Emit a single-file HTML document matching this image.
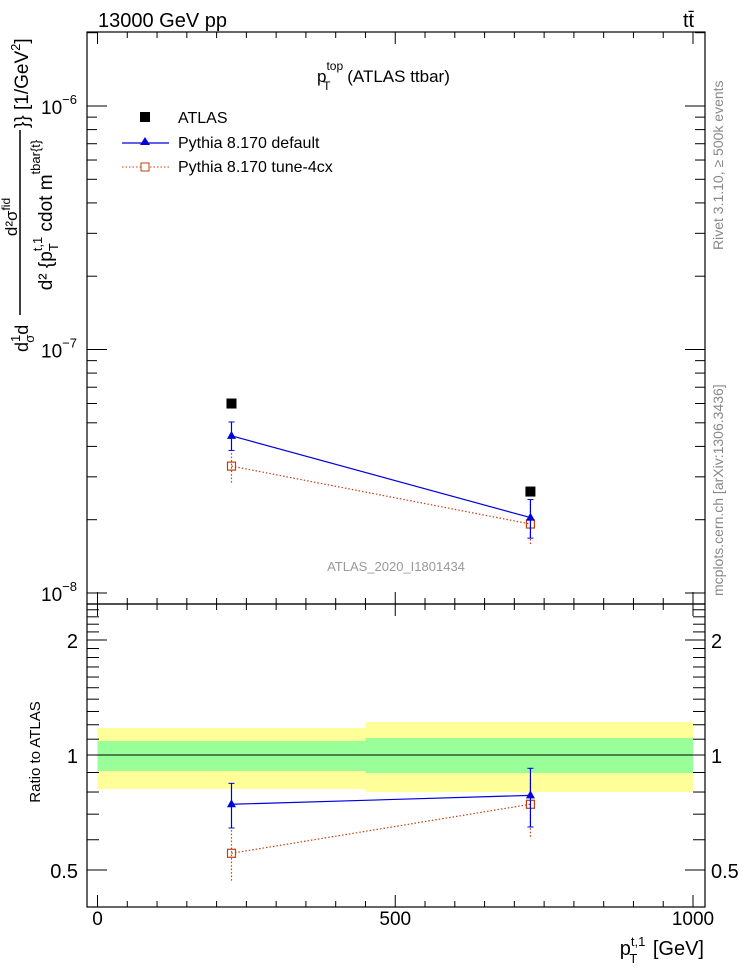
<!DOCTYPE html>
<html><head><meta charset="utf-8"><style>
html,body{margin:0;padding:0;background:#fff;}
svg{display:block;font-family:"Liberation Sans",sans-serif;}
</style></head><body>
<svg id="chart" width="746" height="972" viewBox="0 0 746 972" xmlns="http://www.w3.org/2000/svg">
<g id="bands"></g>
<g id="axes"></g>
<g id="series"></g>
<text x="98" y="27" font-size="20">13000 GeV pp</text>
<text x="683" y="27" font-size="20">tt̄</text>
<text x="317" y="82" font-size="17">p<tspan font-size="12" dy="-12">top</tspan><tspan font-size="12" dx="-20" dy="20">T</tspan><tspan dy="-8" dx="12"> (ATLAS ttbar)</tspan></text>
<g>
 <rect x="140" y="112" width="10" height="10" fill="#000"/>
 <text x="178" y="123" font-size="16">ATLAS</text>
 <line x1="122" y1="143" x2="169" y2="143" stroke="#0000dd" stroke-width="1.2"/>
 <polygon points="145,137 150,145 140,145" fill="#0000dd"/>
 <text x="178" y="148" font-size="16">Pythia 8.170 default</text>
 <line x1="122" y1="167" x2="169" y2="167" stroke="#c04010" stroke-width="1" stroke-dasharray="1.5,2"/>
 <rect x="141" y="163" width="8" height="8" fill="#fff" stroke="#c04010" stroke-width="1"/>
 <text x="178" y="172" font-size="16">Pythia 8.170 tune-4cx</text>
</g>
<text x="396" y="571" font-size="13" fill="#999" text-anchor="middle">ATLAS_2020_I1801434</text>
<text transform="translate(723,250) rotate(-90)" font-size="14" fill="#888">Rivet 3.1.10, ≥ 500k events</text>
<text transform="translate(723,596) rotate(-90)" font-size="14" fill="#888">mcplots.cern.ch [arXiv:1306.3436]</text>
<g>
 <text transform="translate(28,352) rotate(-90)" font-size="18">d<tspan font-size="13" dy="-8">1</tspan><tspan font-size="13" dx="-8" dy="14">σ</tspan><tspan dy="-6">d</tspan></text>
 <text transform="translate(17,217) rotate(-90)" font-size="17" text-anchor="middle">d²σ<tspan font-size="12" dy="-7">fid</tspan></text>
 <line x1="20" y1="130" x2="20" y2="315" stroke="#000" stroke-width="1.5"/>
 <text transform="translate(52,215) rotate(-90)" font-size="19" text-anchor="middle">d² {p<tspan font-size="13" dy="6">T</tspan><tspan font-size="13" dy="-16" dx="-8">t,1</tspan><tspan dy="10"> cdot m</tspan><tspan font-size="13" dy="-12">tbar{t}</tspan></text>
 <text transform="translate(28,128) rotate(-90)" font-size="19">}} [1/GeV<tspan font-size="13" dy="-8">2</tspan><tspan dy="8">]</tspan></text>
</g>
<text transform="translate(40,752) rotate(-90)" font-size="15" text-anchor="middle">Ratio to ATLAS</text>
<text x="704" y="955" font-size="20" text-anchor="end">p<tspan font-size="13" dy="-9">t,1</tspan><tspan font-size="13" dx="-16" dy="17">T</tspan><tspan dy="-8" dx="10"> [GeV]</tspan></text>
</svg>
<script>
const categories=[225,727];
const atlasValues=[6.0e-8,2.61e-8];
const defaultValues=[4.42e-8,2.04e-8];
const defaultErrLo=[3.85e-8,1.68e-8];
const defaultErrHi=[5.04e-8,2.42e-8];
const tuneValues=[3.32e-8,1.92e-8];
const tuneErrLo=[2.84e-8,1.59e-8];
const tuneErrHi=[3.84e-8,2.39e-8];
const binEdges=[0,450,1000];
const bandYellowLo=[0.815,0.80];
const bandYellowHi=[1.177,1.22];
const bandGreenLo=[0.908,0.897];
const bandGreenHi=[1.088,1.108];
const ratioDefault=[0.743,0.784];
const ratioDefaultLo=[0.644,0.648];
const ratioDefaultHi=[0.843,0.923];
const ratioTune=[0.553,0.743];
const ratioTuneLo=[0.469,0.611];
const ratioTuneHi=[0.64,0.877];
const xTickLabels=[0,500,1000];
const ratioTickLabels=[0.5,1,2];
const mainDecades=[-8,-7,-6];

const NS="http://www.w3.org/2000/svg";
const L=87,R=705,T=32,MB=604,RB=907;
const xs=v=>97.5+v*(693-97.5)/1000;
const ym=v=>106+(-6-Math.log10(v))*243.5;
const yr=v=>755-Math.log10(v)*382;
function mk(tag,attrs,parent){const e=document.createElementNS(NS,tag);for(const k in attrs)e.setAttribute(k,attrs[k]);parent.appendChild(e);return e;}
const axes=document.getElementById('axes'),series=document.getElementById('series'),bands=document.getElementById('bands');

for(let i=0;i<2;i++){
 const x1=xs(binEdges[i]),x2=xs(binEdges[i+1]);
 const y=mk('rect',{x:x1,y:yr(bandYellowHi[i]),width:x2-x1,height:yr(bandYellowLo[i])-yr(bandYellowHi[i]),fill:'#ffff99'},bands);
 
 
 const g=mk('rect',{x:x1,y:yr(bandGreenHi[i]),width:x2-x1,height:yr(bandGreenLo[i])-yr(bandGreenHi[i]),fill:'#99ff99'},bands);
 
 
}
mk('line',{x1:xs(0),x2:xs(1000),y1:yr(1),y2:yr(1),stroke:'#000','stroke-width':1},bands);

const f1=mk('rect',{x:L,y:T,width:R-L,height:MB-T,fill:'none',stroke:'#000','stroke-width':1.2},axes);


const f2=mk('rect',{x:L,y:MB,width:R-L,height:RB-MB,fill:'none',stroke:'#000','stroke-width':1.2},axes);



for(let v=0;v<=1000;v+=50){
 const x=xs(v),len=(v%500===0)?12:6;
 for(const [yb,d] of [[T,1],[MB,-1],[MB,1],[RB,-1]]) mk('line',{x1:x,x2:x,y1:yb,y2:yb+d*len,stroke:'#000'},axes);
}
xTickLabels.forEach(v=>{const t=mk('text',{x:xs(v),y:925,'font-size':19,'text-anchor':'middle'},axes);t.textContent=v;
 
 });

for(let d=-9;d<=-6;d++)for(let m=1;m<10;m++){
 const v=m*Math.pow(10,d),y=ym(v);if(y<T||y>MB)continue;
 const len=m===1?20:10;
 mk('line',{x1:L,x2:L+len,y1:y,y2:y,stroke:'#000'},axes);
 mk('line',{x1:R,x2:R-len,y1:y,y2:y,stroke:'#000'},axes);
}
mainDecades.forEach(d=>{const t=mk('text',{x:77,y:ym(Math.pow(10,d))+8,'font-size':19,'text-anchor':'end'},axes);
 t.textContent='10';
 const s=mk('tspan',{'font-size':13,dy:-10},t);s.textContent='\u2212'+(-d);
 
 });

const rt=[];for(let k=4;k<=10;k++)rt.push(k/10);for(let k=11;k<=25;k++)rt.push(k/10);
rt.forEach(v=>{const y=yr(v);if(y<MB+2||y>RB)return;const len=(v===0.5||v===1||v===2)?20:12;
 mk('line',{x1:L,x2:L+len,y1:y,y2:y,stroke:'#000'},axes);mk('line',{x1:R,x2:R-len,y1:y,y2:y,stroke:'#000'},axes);});
ratioTickLabels.forEach(v=>{
 const t=mk('text',{x:78,y:yr(v)+8,'font-size':20,'text-anchor':'end'},axes);t.textContent=v;
 
 
 const t2=mk('text',{x:711,y:yr(v)+8,'font-size':20},axes);t2.textContent=v;
 
 });

function drawSeries(vals,lo,hi,yf,color,dash,marker,name){
 const pts=categories.map((c,i)=>xs(c)+','+yf(vals[i])).join(' ');
 const pl=mk('polyline',{points:pts,fill:'none',stroke:color,'stroke-width':1.2,'stroke-dasharray':dash||'none'},series);
 
 
 categories.forEach((c,i)=>{
  const x=xs(c);
  mk('line',{x1:x,x2:x,y1:yf(lo[i]),y2:yf(hi[i]),stroke:color,'stroke-width':1.2,'stroke-dasharray':dash||'none'},series);
  if(!dash){mk('line',{x1:x-3,x2:x+3,y1:yf(lo[i]),y2:yf(lo[i]),stroke:color},series);mk('line',{x1:x-3,x2:x+3,y1:yf(hi[i]),y2:yf(hi[i]),stroke:color},series);}
  const y=yf(vals[i]);let m;
  if(marker==='tri')m=mk('polygon',{points:(x)+','+(y-5)+' '+(x+4.5)+','+(y+3)+' '+(x-4.5)+','+(y+3),fill:color},series);
  else m=mk('rect',{x:x-4,y:y-4,width:8,height:8,fill:'none',stroke:color,'stroke-width':1.2},series);
  
  
 });
}
drawSeries(tuneValues,tuneErrLo,tuneErrHi,ym,'#c04010','1.5,2','sq','tune4cx');
drawSeries(defaultValues,defaultErrLo,defaultErrHi,ym,'#0000dd',null,'tri','default');
drawSeries(ratioTune,ratioTuneLo,ratioTuneHi,yr,'#c04010','1.5,2','sq','ratio-tune4cx');
drawSeries(ratioDefault,ratioDefaultLo,ratioDefaultHi,yr,'#0000dd',null,'tri','ratio-default');
categories.forEach((c,i)=>{
 const r=mk('rect',{x:xs(c)-5,y:ym(atlasValues[i])-5,width:10,height:10,fill:'#000'},series);
 
 
});
</script>
</body></html>
